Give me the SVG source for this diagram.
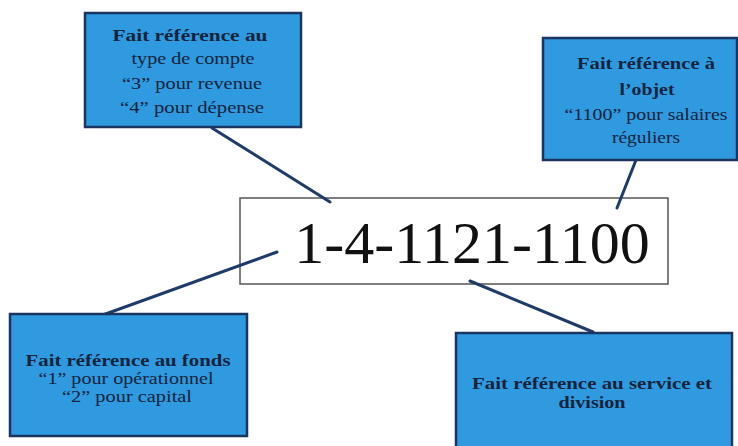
<svg xmlns="http://www.w3.org/2000/svg" width="738" height="446" viewBox="0 0 738 446">
<style>
.box{fill:#2f9ae0;stroke:#1b3560;stroke-width:2.5}
.t{font-family:"Liberation Serif","Times New Roman",serif;fill:#15243c;text-anchor:middle;font-size:17px}
.s{font-size:16px}
.b{font-weight:bold}
.conn line{stroke:#1f3b68;stroke-width:3;stroke-linecap:round}
</style>
<rect width="738" height="446" fill="#ffffff"/>
<g id="code">
<rect x="240" y="198" width="428" height="86" fill="#ffffff" stroke="#555555" stroke-width="1.5"/>
<text x="472" y="263" font-family="Liberation Serif,'Times New Roman',serif" font-size="60" fill="#111111" text-anchor="middle">1-4-1121-1100</text>
</g>
<g class="conn" id="connectors">
<line x1="212" y1="128" x2="330" y2="202"/>
<line x1="636" y1="160" x2="617" y2="208"/>
<line x1="277" y1="252" x2="100" y2="316"/>
<line x1="470" y1="281" x2="593" y2="332"/>
</g>
<g id="type-compte">
<rect class="box" x="85" y="13" width="216" height="114"/>
<text class="t b" x="190" y="41" textLength="155" lengthAdjust="spacingAndGlyphs">Fait référence au</text>
<text class="t" x="193" y="64" textLength="123" lengthAdjust="spacingAndGlyphs">type de compte</text>
<text class="t" x="192" y="89" textLength="140" lengthAdjust="spacingAndGlyphs">“3” pour revenue</text>
<text class="t" x="192" y="113" textLength="144" lengthAdjust="spacingAndGlyphs">“4” pour dépense</text>
</g>
<g id="objet">
<rect class="box" x="543" y="38" width="194" height="122"/>
<text class="t b" x="646" y="69" textLength="138" lengthAdjust="spacingAndGlyphs">Fait référence à</text>
<text class="t b" x="647" y="95" textLength="55" lengthAdjust="spacingAndGlyphs">l’objet</text>
<text class="t" x="646" y="120" textLength="163" lengthAdjust="spacingAndGlyphs">“1100” pour salaires</text>
<text class="t" x="646" y="143" textLength="68" lengthAdjust="spacingAndGlyphs">réguliers</text>
</g>
<g id="fonds">
<rect class="box" x="10" y="314" width="237" height="122"/>
<text class="t s b" x="128" y="366" textLength="205" lengthAdjust="spacingAndGlyphs">Fait référence au fonds</text>
<text class="t s" x="126" y="384" textLength="175" lengthAdjust="spacingAndGlyphs">“1” pour opérationnel</text>
<text class="t s" x="127" y="402" textLength="130" lengthAdjust="spacingAndGlyphs">“2” pour capital</text>
</g>
<g id="service">
<rect class="box" x="456" y="333" width="276" height="120"/>
<text class="t s b" x="592" y="389" textLength="240" lengthAdjust="spacingAndGlyphs">Fait référence au service et</text>
<text class="t s b" x="592" y="408" textLength="67" lengthAdjust="spacingAndGlyphs">division</text>
</g>
</svg>
